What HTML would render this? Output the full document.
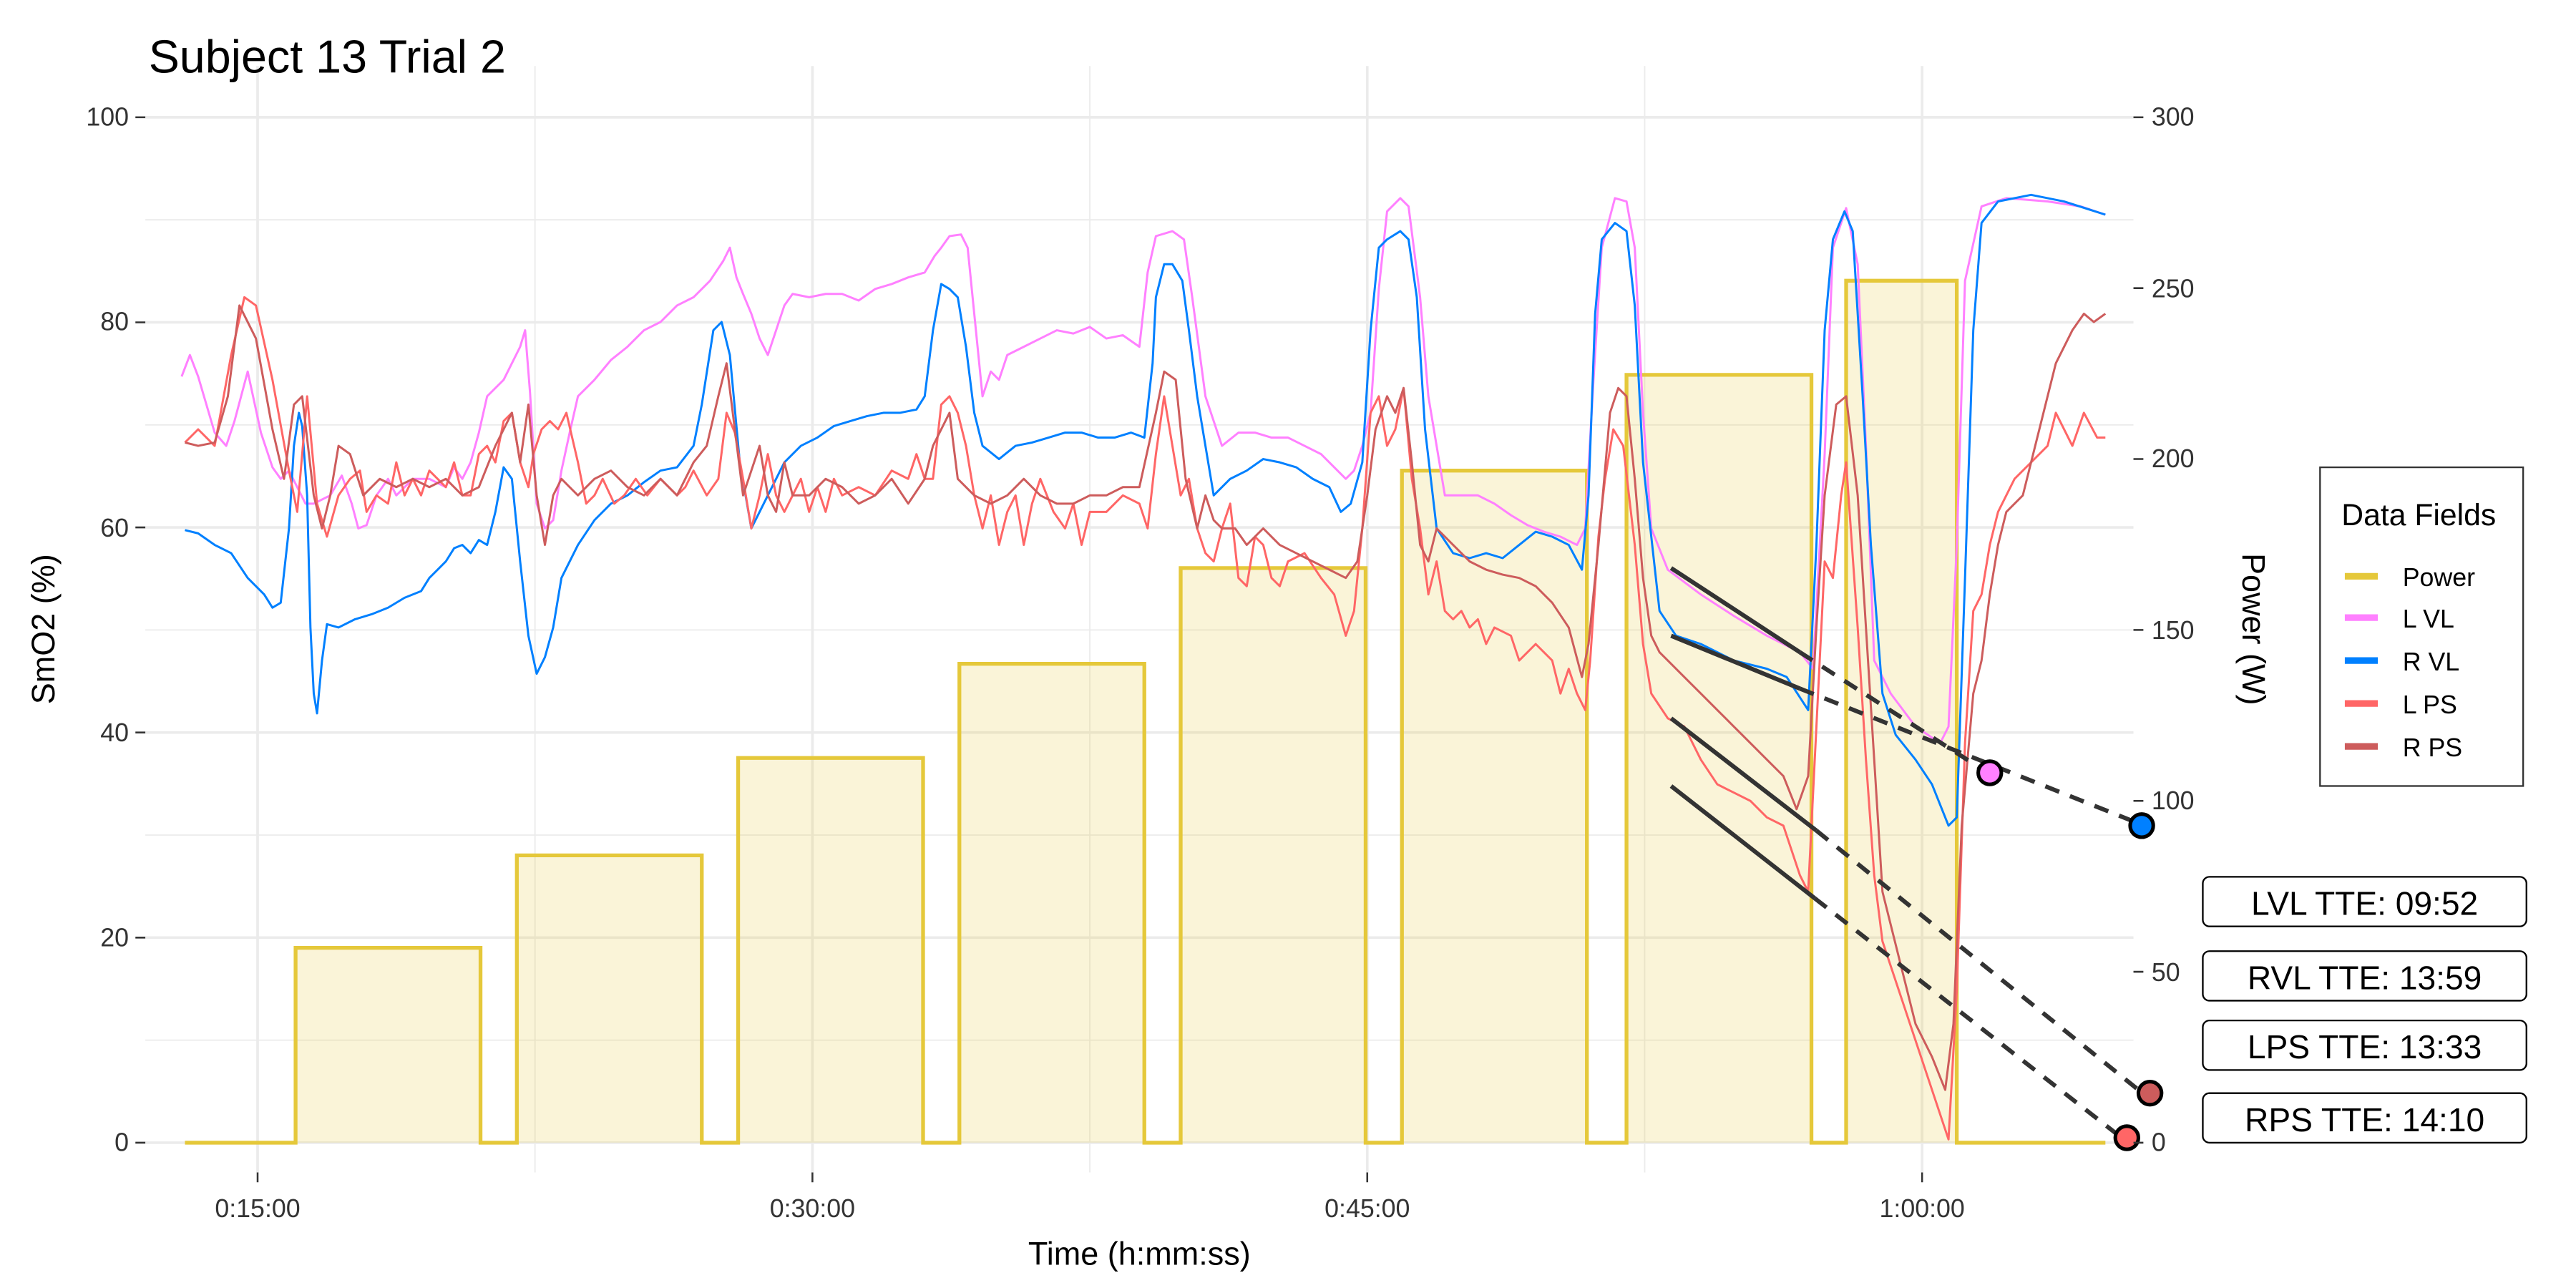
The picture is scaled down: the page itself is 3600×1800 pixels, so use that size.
<!DOCTYPE html>
<html><head><meta charset="utf-8"><style>html,body{margin:0;padding:0;background:#fff;}svg{display:block}</style></head>
<body>
<svg xmlns="http://www.w3.org/2000/svg" width="3600" height="1800" viewBox="0 0 1560 780" font-family="Liberation Sans, sans-serif">
<rect width="1560" height="780" fill="#fff"/>
<!-- grid -->
<g stroke="#EBEBEB" stroke-width="0.8" fill="none">
<path d="M88,629.9H1292M88,505.7H1292M88,381.5H1292M88,257.3H1292M88,133.1H1292M324,40V710M660,40V710M996,40V710"/>
</g>
<g stroke="#EBEBEB" stroke-width="1.6" fill="none">
<path d="M88,692H1292M88,567.8H1292M88,443.6H1292M88,319.4H1292M88,195.2H1292M88,71H1292M156,40V710M492,40V710M828,40V710M1164,40V710"/>
</g>
<!-- power -->
<path d="M112,692 H179 V574 H291 V692 H313 V518 H425 V692 H447 V459 H559 V692 H581 V402 H693 V692 H715 V344 H827 V692 H849 V285 H961 V692 H985 V227 H1097 V692 H1118 V170 H1185 V692 H1275" fill="#E5C83A" fill-opacity="0.2" stroke="#E5C83A" stroke-width="2.3" stroke-linejoin="miter"/>
<g fill="none" stroke-width="1.3" stroke-linejoin="round">
<!-- L VL -->
<polyline stroke="#FF80FF" points="110,228 115,215 120,228 130,262 137,270 142,255 150,225 158,262 165,283 170,290 175,285 180,295 185,305 190,305 200,300 207,288 213,305 217,320 222,318 228,300 235,290 240,300 245,295 250,290 260,290 270,295 275,283 280,290 285,280 290,262 295,240 300,235 305,230 310,220 315,210 318,200 321,238 325,305 330,320 335,315 340,285 345,262 350,240 360,230 370,218 380,210 390,200 400,195 410,185 420,180 430,170 438,158 442,150 446,168 450,178 455,190 460,205 465,215 470,200 475,185 480,178 490,180 500,178 510,178 520,182 530,175 540,172 550,168 560,165 566,155 570,150 575,143 582,142 586,150 590,190 595,240 600,225 605,230 610,215 620,210 630,205 640,200 650,202 660,198 670,205 680,203 690,210 695,165 700,143 710,140 717,145 722,180 730,240 740,270 750,262 760,262 770,265 780,265 790,270 800,275 810,285 815,290 820,285 825,270 830,250 835,175 840,128 848,120 853,125 860,180 865,240 870,270 875,300 885,300 895,300 905,305 915,312 925,318 935,322 945,325 955,330 960,320 965,230 970,150 978,120 985,122 990,150 995,250 1000,320 1010,345 1030,360 1050,373 1070,385 1090,395 1098,405 1105,275 1110,150 1118,126 1125,160 1130,270 1135,400 1145,420 1160,440 1175,450 1180,440 1185,330 1190,170 1200,125 1215,120 1240,122 1260,125 1275,130"/>
<!-- R VL -->
<polyline stroke="#0080FF" points="112,321 120,323 130,330 140,335 150,350 160,360 165,368 170,365 175,320 178,270 181,250 183,258 186,300 188,380 190,420 192,432 195,400 198,378 205,380 215,375 225,372 235,368 245,362 255,358 260,350 265,345 270,340 275,332 280,330 285,335 290,327 295,330 300,310 305,283 310,290 315,340 320,385 325,408 330,398 335,380 340,350 350,330 360,315 370,305 380,300 390,292 400,285 410,283 420,270 425,245 432,200 437,195 442,215 448,280 455,320 465,300 475,280 485,270 495,265 505,258 515,255 525,252 535,250 545,250 555,248 560,240 565,200 570,172 575,175 580,180 585,210 590,250 595,270 605,278 615,270 625,268 635,265 645,262 655,262 665,265 675,265 685,262 693,265 698,220 700,180 705,160 710,160 716,170 720,200 725,240 730,270 735,300 745,290 755,285 765,278 775,280 785,283 795,290 805,295 812,310 818,305 825,280 830,200 835,150 840,145 848,140 853,145 858,180 863,260 870,320 880,335 890,338 900,335 910,338 920,330 930,322 940,325 950,330 958,345 962,300 966,190 970,145 978,135 985,140 990,185 995,280 1005,370 1015,385 1030,390 1050,400 1070,405 1082,410 1095,430 1100,330 1105,200 1110,145 1117,128 1122,140 1128,240 1133,330 1140,420 1148,445 1160,460 1170,475 1180,500 1185,495 1190,350 1195,200 1200,135 1210,122 1230,118 1250,122 1275,130"/>
<!-- L PS -->
<polyline stroke="#FF6666" points="112,268 120,260 130,270 140,215 148,180 155,185 165,230 175,285 180,310 186,240 192,305 198,325 205,300 212,290 218,285 222,310 228,300 235,305 240,280 245,300 250,290 255,300 260,285 265,290 270,295 275,280 280,300 285,300 290,275 295,270 300,280 305,255 310,250 315,280 320,295 323,275 328,260 333,255 338,260 343,250 350,280 355,305 360,300 365,290 372,305 378,300 385,290 392,300 400,290 410,300 415,295 420,285 428,300 435,290 440,250 445,262 450,290 455,320 460,300 465,275 470,300 475,310 480,300 485,290 490,310 495,295 500,310 505,290 510,300 520,295 530,300 540,285 550,290 555,275 560,290 565,290 570,245 575,240 580,250 585,270 590,300 595,320 600,300 605,330 610,310 615,300 620,330 625,305 630,290 638,310 645,320 650,305 655,330 660,310 670,310 680,300 690,305 695,320 700,275 705,240 710,270 715,300 720,290 725,320 730,335 735,340 740,320 745,305 750,350 755,355 760,325 765,330 770,350 775,355 780,340 790,335 800,350 808,360 815,385 820,370 825,320 830,250 835,240 840,270 845,260 850,235 855,290 860,320 865,360 870,340 875,370 880,375 885,370 890,380 895,375 900,390 905,380 915,385 920,400 925,395 930,390 935,395 940,400 945,420 950,405 955,420 960,430 963,400 968,325 972,290 977,260 983,270 990,330 995,390 1000,420 1010,435 1020,440 1030,460 1040,475 1050,480 1060,485 1070,495 1080,500 1090,530 1095,540 1100,440 1105,340 1110,350 1115,300 1118,280 1125,380 1130,460 1135,530 1140,570 1150,600 1160,630 1170,660 1180,690 1185,600 1190,450 1195,370 1200,360 1205,330 1210,310 1220,290 1230,280 1240,270 1245,250 1255,270 1262,250 1270,265 1275,265"/>
<!-- R PS -->
<polyline stroke="#CD5C5C" points="112,268 120,270 130,268 138,240 145,185 155,205 165,260 172,290 178,245 183,240 190,300 195,320 200,300 205,270 212,275 220,300 230,290 240,295 250,290 260,295 270,290 280,300 290,295 300,270 305,260 310,250 315,280 320,245 325,300 330,330 335,300 340,290 345,295 350,300 360,290 370,285 380,295 390,300 400,290 410,300 420,280 428,270 435,240 440,220 445,260 450,300 455,285 460,270 465,300 470,310 475,280 480,300 490,300 500,290 510,295 520,305 530,300 540,290 550,305 560,290 565,270 570,260 575,250 580,290 590,300 600,305 610,300 620,290 630,300 640,305 650,305 660,300 670,300 680,295 690,295 700,250 705,225 712,230 718,290 725,320 730,300 735,315 740,320 748,320 755,330 765,320 775,330 785,335 795,340 805,345 815,350 822,340 828,300 833,260 840,240 845,250 850,235 855,280 860,330 865,340 870,320 880,330 890,340 900,345 910,348 920,350 930,355 940,365 950,380 958,410 962,390 968,330 975,250 980,235 985,240 990,290 995,350 1000,385 1005,395 1010,400 1020,410 1030,420 1040,430 1050,440 1060,450 1070,460 1080,470 1088,490 1095,470 1100,380 1105,300 1112,245 1118,240 1125,300 1130,380 1135,460 1140,540 1150,580 1160,620 1170,640 1178,660 1183,620 1188,500 1195,420 1200,400 1205,360 1210,330 1215,310 1225,300 1235,260 1245,220 1255,200 1262,190 1268,195 1275,190"/>
</g>
<!-- fit lines -->
<g stroke="#333" stroke-width="2.6" fill="none">
<path d="M1012,344L1090,395M1012,385L1090,417M1012,435L1100,503M1012,476L1099,544"/>
<path stroke-dasharray="9,7" d="M1090,395L1199,465M1090,417L1291,497M1100,503L1295,660M1099,544L1281,686"/>
</g>
<g stroke="#000" stroke-width="2.2">
<circle cx="1205" cy="468" r="7" fill="#FF80FF"/>
<circle cx="1297" cy="500" r="7" fill="#0080FF"/>
<circle cx="1302" cy="662" r="7" fill="#CD5C5C"/>
<circle cx="1288" cy="689" r="7" fill="#FF6666"/>
</g>
<!-- axes ticks -->
<g stroke="#333" stroke-width="1.1">
<path d="M82,692H88M82,567.8H88M82,443.6H88M82,319.4H88M82,195.2H88M82,71H88"/>
<path d="M1292,692H1298M1292,588.5H1298M1292,485H1298M1292,381.5H1298M1292,278H1298M1292,174.5H1298M1292,71H1298"/>
<path d="M156,710V716M492,710V716M828,710V716M1164,710V716"/>
</g>
<g fill="#333" font-size="15.5">
<g text-anchor="end">
<text x="78" y="697">0</text><text x="78" y="573">20</text><text x="78" y="449">40</text><text x="78" y="325">60</text><text x="78" y="200">80</text><text x="78" y="76">100</text>
</g>
<text x="1303" y="697">0</text><text x="1303" y="594">50</text><text x="1303" y="490">100</text><text x="1303" y="387">150</text><text x="1303" y="283">200</text><text x="1303" y="180">250</text><text x="1303" y="76">300</text>
<g text-anchor="middle">
<text x="156" y="737">0:15:00</text><text x="492" y="737">0:30:00</text><text x="828" y="737">0:45:00</text><text x="1164" y="737">1:00:00</text>
</g>
</g>
<text x="690" y="766" font-size="19.5" text-anchor="middle">Time (h:mm:ss)</text>
<text transform="translate(33,381) rotate(-90)" font-size="19.5" text-anchor="middle">SmO2 (%)</text>
<text transform="translate(1358,381) rotate(90)" font-size="19.5" text-anchor="middle">Power (W)</text>
<text x="90" y="44" font-size="28">Subject 13 Trial 2</text>
<!-- legend -->
<rect x="1405" y="283" width="123" height="193" fill="#fff" stroke="#333" stroke-width="1"/>
<text x="1418" y="318" font-size="18.5">Data Fields</text>
<g stroke-width="4">
<path d="M1420,349H1440" stroke="#E5C83A"/><path d="M1420,374H1440" stroke="#FF80FF"/><path d="M1420,400H1440" stroke="#0080FF"/><path d="M1420,426H1440" stroke="#FF6666"/><path d="M1420,452H1440" stroke="#CD5C5C"/>
</g>
<g font-size="15.5">
<text x="1455" y="355">Power</text><text x="1455" y="380">L VL</text><text x="1455" y="406">R VL</text><text x="1455" y="432">L PS</text><text x="1455" y="458">R PS</text>
</g>
<!-- labels -->
<g fill="#fff" stroke="#000" stroke-width="1">
<rect x="1334" y="531" width="196" height="30" rx="4"/>
<rect x="1334" y="576" width="196" height="30" rx="4"/>
<rect x="1334" y="618" width="196" height="30" rx="4"/>
<rect x="1334" y="662" width="196" height="30" rx="4"/>
</g>
<g font-size="20" text-anchor="middle">
<text x="1432" y="554">LVL TTE: 09:52</text>
<text x="1432" y="599">RVL TTE: 13:59</text>
<text x="1432" y="641">LPS TTE: 13:33</text>
<text x="1432" y="685">RPS TTE: 14:10</text>
</g>
</svg>
</body></html>
